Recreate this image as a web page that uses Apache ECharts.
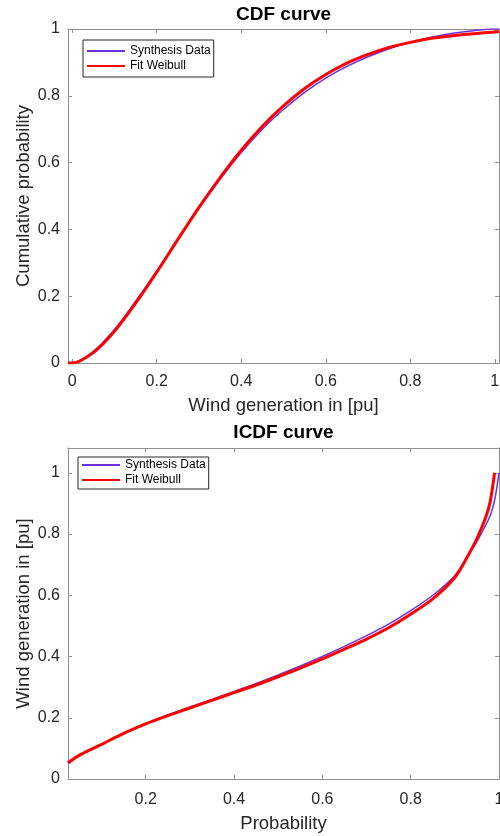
<!DOCTYPE html>
<html>
<head>
<meta charset="utf-8">
<script src="https://cdn.jsdelivr.net/npm/echarts@6/dist/echarts.min.js"></script>
<style>
  html, body { margin: 0; padding: 0; background: #fff; }
  #chart { width: 500px; height: 836px; }
</style>
</head>
<body>
<div id="chart"></div>
<script>
// CDF panel
const cdfX = [-0.01, 0, 0.05, 0.1, 0.15, 0.2, 0.25, 0.3, 0.35, 0.4, 0.45, 0.5, 0.55, 0.6, 0.65, 0.7, 0.75, 0.8, 0.85, 0.9, 0.95, 1.0, 1.01]
const cdfSynth = [0, 0, 0.035, 0.1, 0.185, 0.275, 0.37, 0.463, 0.55, 0.63, 0.7, 0.759, 0.81, 0.853, 0.888, 0.917, 0.941, 0.96, 0.975, 0.987, 0.995, 1.0, 1.0]
const cdfFit = [0, 0, 0.031, 0.095, 0.179, 0.272, 0.37, 0.466, 0.555, 0.637, 0.709, 0.77, 0.822, 0.864, 0.898, 0.924, 0.945, 0.96, 0.972, 0.98, 0.986, 0.991, 0.992]

// ICDF panel
const icdfP = [0.024, 0.05, 0.1, 0.15, 0.2, 0.25, 0.3, 0.35, 0.4, 0.45, 0.5, 0.55, 0.6, 0.65, 0.7, 0.75, 0.8, 0.85, 0.9, 0.93, 0.95, 0.97, 0.98, 0.99, 1.0]
const icdfSynth = [0.05, 0.076, 0.113, 0.149, 0.181, 0.209, 0.235, 0.26, 0.286, 0.312, 0.34, 0.369, 0.4, 0.433, 0.468, 0.506, 0.55, 0.6, 0.665, 0.73, 0.775, 0.83, 0.86, 0.91, 1.0]
const icdfFit = [0.053, 0.078, 0.113, 0.149, 0.18, 0.207, 0.232, 0.257, 0.282, 0.307, 0.334, 0.362, 0.392, 0.424, 0.457, 0.494, 0.538, 0.588, 0.658, 0.73, 0.785, 0.855, 0.905, 1.0, null]

const ticks01 = [0, 0.2, 0.4, 0.6, 0.8, 1]
const ticksP = [0.2, 0.4, 0.6, 0.8, 1]
const seriesNames = ['Synthesis Data', 'Fit Weibull']

const FONT = "'Liberation Sans', Arial, sans-serif"
const AXIS_COLOR = '#8f8f8f'
const TEXT_COLOR = '#262626'
const PURPLE = '#6e32dc'
const RED = '#ff0000'

function pairs(xs, ys) {
  return xs.map((x, i) => [x, ys[i]])
}

// one side of a MATLAB style box: line + inward ticks, labels optional
function boxAxis(opt) {
  const ax = {
    type: 'value',
    gridIndex: opt.grid,
    position: opt.position,
    min: opt.min,
    max: opt.max,
    axisLine: { show: true, onZero: false, lineStyle: { color: AXIS_COLOR, width: 1 } },
    axisTick: { show: true, inside: true, length: 4, customValues: opt.ticks, lineStyle: { color: AXIS_COLOR } },
    axisLabel: {
      show: !!opt.label,
      customValues: opt.ticks,
      fontSize: 16,
      fontFamily: FONT,
      color: TEXT_COLOR,
      margin: opt.margin || 8
    },
    splitLine: { show: false }
  }
  if (opt.name) {
    ax.name = opt.name
    ax.nameLocation = 'middle'
    ax.nameGap = opt.nameGap
    ax.nameMoveOverlap = false
    ax.nameTextStyle = { fontSize: 18.5, fontFamily: FONT, color: TEXT_COLOR }
  }
  return ax
}

function legendAt(left, top, padding) {
  return {
    orient: 'vertical',
    left: left,
    top: top,
    data: seriesNames,
    itemWidth: 38,
    itemHeight: 14,
    itemGap: 3,
    padding: padding,
    borderColor: '#262626',
    borderWidth: 1,
    backgroundColor: '#fff',
    selectedMode: false,
    itemStyle: { opacity: 0 },
    textStyle: { fontSize: 12, fontFamily: FONT, color: '#000' }
  }
}

const chart = echarts.init(document.getElementById('chart'), null, { renderer: 'canvas' })

const option = {
  animation: false,
  backgroundColor: '#fff',
  title: [
    { text: 'CDF curve', left: 283.5, top: 5, textAlign: 'center', padding: 0,
      textStyle: { fontSize: 19, fontWeight: 'bold', fontFamily: FONT, color: '#000' } },
    { text: 'ICDF curve', left: 283.5, top: 423, textAlign: 'center', padding: 0,
      textStyle: { fontSize: 19, fontWeight: 'bold', fontFamily: FONT, color: '#000' } }
  ],
  legend: [
    legendAt(83, 40, [5, 3, 5, 3]),
    legendAt(78, 457, [2, 3, 3, 3])
  ],
  grid: [
    { left: 68, right: 1, top: 29, height: 334, outerBoundsMode: 'none' },
    { left: 68, right: 1, top: 448, height: 331, outerBoundsMode: 'none' }
  ],
  xAxis: [
    boxAxis({ grid: 0, position: 'bottom', min: -0.01, max: 1.01, ticks: ticks01, label: true, margin: 11,
      name: 'Wind generation in [pu]', nameGap: 33 }),
    boxAxis({ grid: 0, position: 'top', min: -0.01, max: 1.01, ticks: ticks01 }),
    boxAxis({ grid: 1, position: 'bottom', min: 0.024, max: 1.0, ticks: ticksP, label: true, margin: 13,
      name: 'Probability', nameGap: 35 }),
    boxAxis({ grid: 1, position: 'top', min: 0.024, max: 1.0, ticks: ticksP })
  ],
  yAxis: [
    boxAxis({ grid: 0, position: 'left', min: 0, max: 1, ticks: ticks01, label: true,
      name: 'Cumulative probability', nameGap: 35 }),
    boxAxis({ grid: 0, position: 'right', min: 0, max: 1, ticks: ticks01 }),
    boxAxis({ grid: 1, position: 'left', min: 0, max: 1.081, ticks: ticks01, label: true,
      name: 'Wind generation in [pu]', nameGap: 35 }),
    boxAxis({ grid: 1, position: 'right', min: 0, max: 1.081, ticks: ticks01 })
  ],
  series: [
    { name: 'Synthesis Data', type: 'line', xAxisIndex: 0, yAxisIndex: 0, data: pairs(cdfX, cdfSynth),
      symbol: 'none', smooth: 0.3, lineStyle: { color: PURPLE, width: 1.5 }, itemStyle: { color: PURPLE } },
    { name: 'Fit Weibull', type: 'line', xAxisIndex: 0, yAxisIndex: 0, data: pairs(cdfX, cdfFit),
      symbol: 'none', smooth: 0.3, lineStyle: { color: RED, width: 3 }, itemStyle: { color: RED } },
    { name: 'Synthesis Data', type: 'line', xAxisIndex: 2, yAxisIndex: 2, data: pairs(icdfP, icdfSynth),
      symbol: 'none', smooth: 0.3, lineStyle: { color: PURPLE, width: 1.5 }, itemStyle: { color: PURPLE } },
    { name: 'Fit Weibull', type: 'line', xAxisIndex: 2, yAxisIndex: 2, data: pairs(icdfP, icdfFit),
      symbol: 'none', smooth: 0.3, lineStyle: { color: RED, width: 3 }, itemStyle: { color: RED } }
  ]
}

chart.setOption(option)
</script>
</body>
</html>
